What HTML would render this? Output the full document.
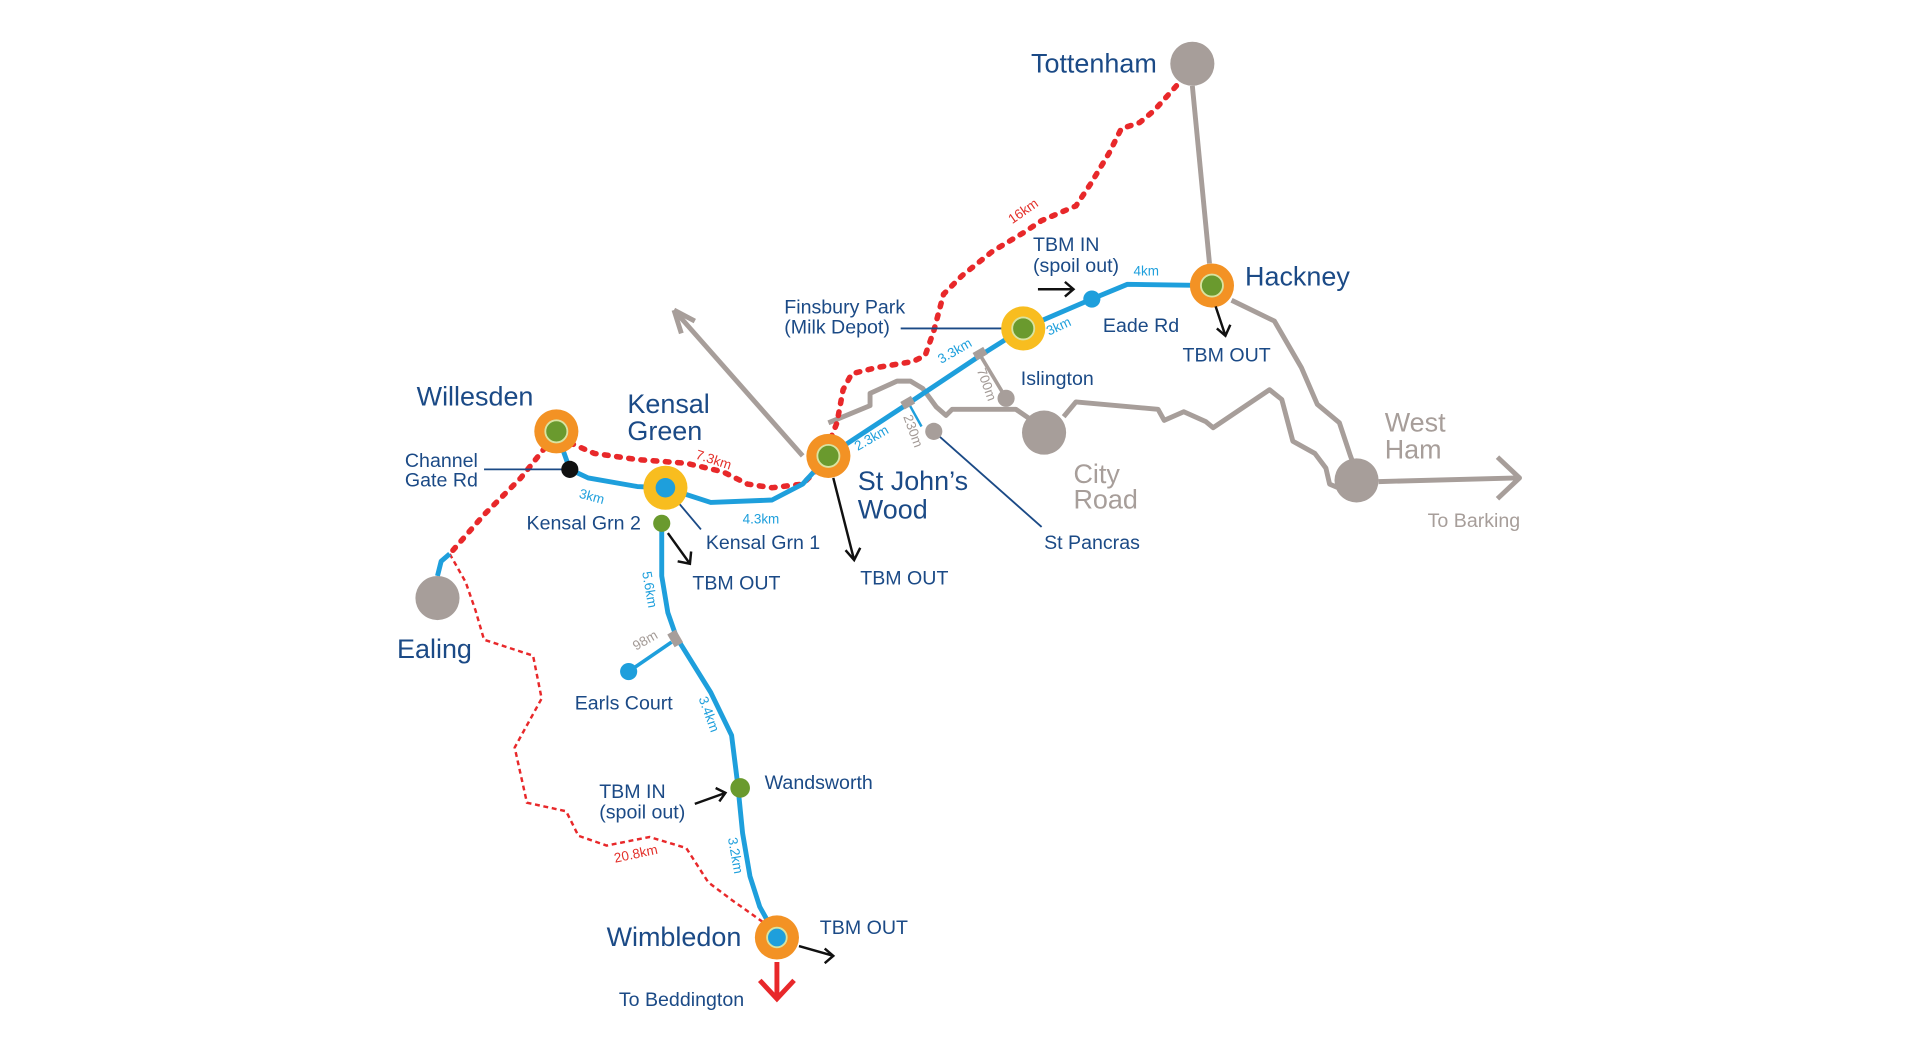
<!DOCTYPE html>
<html><head><meta charset="utf-8"><style>
html,body{margin:0;padding:0;background:#fff;width:1920px;height:1050px;overflow:hidden}
svg{display:block}
text{font-family:"Liberation Sans",Arial,sans-serif}
.b{fill:#1b4a86}
.big{font-size:22px}
.sm{font-size:16px}
.km{font-size:11px;fill:#1e9fdc}
.gk{font-size:11px;fill:#a39a96}
.rk{font-size:11px;fill:#e3302a}
</style></head><body>
<svg width="1920" height="1050" viewBox="0 0 1566.8 856.8" xmlns="http://www.w3.org/2000/svg">
<rect x="0" y="0" width="1566.8" height="856.8" fill="#fff"/>
<g fill="none" stroke="#a79e9a" stroke-width="4" stroke-linejoin="round">
<path d="M973 70 L987 215"/>
<path d="M1005 245 L1040 262 L1062 300 L1075 330 L1093 345 L1102 372 L1105 380"/>
<path d="M676 345 L710 331 L710 321 L732 311 L743 311 L753 317 L764 332 L772 339 L777 334 L829 334 L845 345"/>
<path d="M868 340 L878 328 L945 334 L950 343 L966 336 L984 344 L990 349 L1036 318 L1046 326 L1055 360 L1073 370 L1082 382 L1085 395 L1092 398"/>
<path d="M655 372 L550 253"/>
<path d="M550 253 L556 272 M550 253 L567 262"/>
<path d="M1125 393 L1238 390"/>
<path d="M1222 373 L1240 390 L1222 407"/>
<path d="M800 290 L821 325" stroke-width="3"/>
</g>
<g fill="none" stroke="#e8282a" stroke-width="4.5" stroke-dasharray="3 7" stroke-linecap="round">
<path d="M960 70 L942 90 L930 100 L915 105 L905 125 L890 150 L878 168 L850 180 L835 190 L810 205 L785 225 L770 240 L762 270 L755 290 L745 295 L715 300 L695 305 L688 318 L683 345 L675 365 L668 382 L655 395 L630 398 L610 395 L590 385 L560 378 L520 375 L485 370 L462 360"/>
<path d="M445 365 L425 390 L395 420 L367 452"/>
</g>
<path d="M367 452 L380 475 L388 498 L395 522 L435 535 L442 570 L420 610 L430 655 L462 662 L472 682 L495 690 L530 683 L560 692 L578 720 L598 735 L622 752" fill="none" stroke="#e8282a" stroke-width="2" stroke-dasharray="4 3"/>
<g fill="none" stroke="#1e9fdc" stroke-width="4" stroke-linejoin="round">
<path d="M454 352 L465 383 L480 390 L520 397 L543 398 L580 410 L630 408 L655 395 L676 372 L740 330 L800 290 L835 268 L891 244 L920 232 L989 233"/>
<path d="M540 427 L540 470 L545 500 L552 520 L580 565 L597 600 L602 640 L606 680 L612 715 L620 740 L634 765"/>
<path d="M357 470 L360 458 L367 452"/>
<path d="M513 548 L548 524" stroke-width="3"/>
<path d="M742 330 L752 348" stroke-width="2"/>
</g>
<g fill="#a79e9a">
<rect x="547" y="515" width="8" height="12" transform="rotate(-30 551 521)"/>
<rect x="795" y="285" width="10" height="7" transform="rotate(-30 800 289)"/>
<rect x="736" y="325" width="10" height="7" transform="rotate(-30 741 329)"/>
</g>
<g stroke="#1b4a86" stroke-width="1.5">
<line x1="395" y1="383" x2="465" y2="383"/>
<line x1="545" y1="400" x2="572" y2="432"/>
<line x1="735" y1="268" x2="835" y2="268"/>
<line x1="762" y1="352" x2="850" y2="430"/>
</g>
<g fill="#a79e9a">
<circle cx="973" cy="52" r="18"/>
<circle cx="1107" cy="392" r="18"/>
<circle cx="852" cy="353" r="18"/>
<circle cx="357" cy="488" r="18"/>
<circle cx="821" cy="325" r="7"/>
<circle cx="762" cy="352" r="7"/>
</g>
<g>
<circle cx="454" cy="352" r="18" fill="#f39224"/><circle cx="454" cy="352" r="9" fill="#6a9a2e" stroke="#d9e3a0" stroke-width="1.5"/>
<circle cx="676" cy="372" r="18" fill="#f39224"/><circle cx="676" cy="372" r="9" fill="#6a9a2e" stroke="#d9e3a0" stroke-width="1.5"/>
<circle cx="989" cy="233" r="18" fill="#f39224"/><circle cx="989" cy="233" r="9" fill="#6a9a2e" stroke="#d9e3a0" stroke-width="1.5"/>
<circle cx="634" cy="765" r="18" fill="#f39224"/><circle cx="634" cy="765" r="8" fill="#1e9fdc" stroke="#d9e3a0" stroke-width="1.5"/>
<circle cx="543" cy="398" r="18" fill="#f8bd1f"/><circle cx="543" cy="398" r="8" fill="#1e9fdc"/>
<circle cx="835" cy="268" r="18" fill="#f8bd1f"/><circle cx="835" cy="268" r="9" fill="#6a9a2e" stroke="#d9e3a0" stroke-width="1.5"/>
<circle cx="465" cy="383" r="7" fill="#111"/>
<circle cx="540" cy="427" r="7" fill="#6a9a2e"/>
<circle cx="604" cy="643" r="8" fill="#6a9a2e"/>
<circle cx="891" cy="244" r="7" fill="#1e9fdc"/>
<circle cx="513" cy="548" r="7" fill="#1e9fdc"/>
</g>
<g fill="none" stroke="#111" stroke-width="2">
<path d="M545 435 L563 460 M553 458 L563 460 L564 450"/>
<path d="M680 390 L697 457 M690 449 L697 457 L702 447"/>
<path d="M992 250 L1000 274 M993 268 L1000 274 L1004 265"/>
<path d="M847 236 L876 236 M869 230 L876 236 L869 242"/>
<path d="M567 656 L592 647 M584 643 L592 647 L587 654"/>
<path d="M652 772 L680 780 M673 774 L680 780 L673 786"/>
</g>
<path d="M634 785 L634 815 M620 800 L634 815 L648 800" fill="none" stroke="#e8282a" stroke-width="4"/>
<g class="b">
<text x="944" y="59" class="big" text-anchor="end">Tottenham</text>
<text x="1016" y="233" class="big">Hackney</text>
<text x="340" y="331" class="big">Willesden</text>
<text x="512" y="337" class="big">Kensal</text>
<text x="512" y="359" class="big">Green</text>
<text x="700" y="400" class="big">St John’s</text>
<text x="700" y="423" class="big">Wood</text>
<text x="324" y="537" class="big">Ealing</text>
<text x="495" y="772" class="big">Wimbledon</text>
<text x="390" y="381" class="sm" text-anchor="end">Channel</text>
<text x="390" y="397" class="sm" text-anchor="end">Gate Rd</text>
<text x="523" y="432" class="sm" text-anchor="end">Kensal Grn 2</text>
<text x="576" y="448" class="sm">Kensal Grn 1</text>
<text x="565" y="481" class="sm">TBM OUT</text>
<text x="702" y="477" class="sm">TBM OUT</text>
<text x="965" y="295" class="sm">TBM OUT</text>
<text x="669" y="762" class="sm">TBM OUT</text>
<text x="852" y="448" class="sm">St Pancras</text>
<text x="833" y="314" class="sm">Islington</text>
<text x="900" y="271" class="sm">Eade Rd</text>
<text x="843" y="205" class="sm">TBM IN</text>
<text x="843" y="222" class="sm">(spoil out)</text>
<text x="640" y="256" class="sm">Finsbury Park</text>
<text x="640" y="272" class="sm">(Milk Depot)</text>
<text x="624" y="644" class="sm">Wandsworth</text>
<text x="489" y="651" class="sm">TBM IN</text>
<text x="489" y="668" class="sm">(spoil out)</text>
<text x="469" y="579" class="sm">Earls Court</text>
<text x="505" y="821" class="sm">To Beddington</text>
</g>
<g fill="#a79e9a">
<text x="1130" y="352" class="big">West</text>
<text x="1130" y="374" class="big">Ham</text>
<text x="876" y="394" class="big">City</text>
<text x="876" y="415" class="big">Road</text>
<text x="1165" y="430" class="sm">To Barking</text>
</g>
<text class="km" transform="translate(472 406) rotate(15)">3km</text>
<text class="km" x="606" y="427">4.3km</text>
<text class="km" transform="translate(700 368) rotate(-30)">2.3km</text>
<text class="km" transform="translate(768 297) rotate(-30)">3.3km</text>
<text class="km" transform="translate(856 274) rotate(-25)">3km</text>
<text class="km" x="925" y="225">4km</text>
<text class="km" transform="translate(524 467) rotate(80)">5.6km</text>
<text class="km" transform="translate(570 570) rotate(70)">3.4km</text>
<text class="km" transform="translate(594 684) rotate(80)">3.2km</text>
<text class="gk" transform="translate(737 340) rotate(70)">230m</text>
<text class="gk" transform="translate(797 302) rotate(70)">700m</text>
<text class="gk" transform="translate(519 531) rotate(-30)">98m</text>
<text class="rk" transform="translate(826 183) rotate(-35)">16km</text>
<text class="rk" transform="translate(567 374) rotate(18)">7.3km</text>
<text class="rk" transform="translate(502 704) rotate(-12)">20.8km</text>
</svg>
</body></html>
